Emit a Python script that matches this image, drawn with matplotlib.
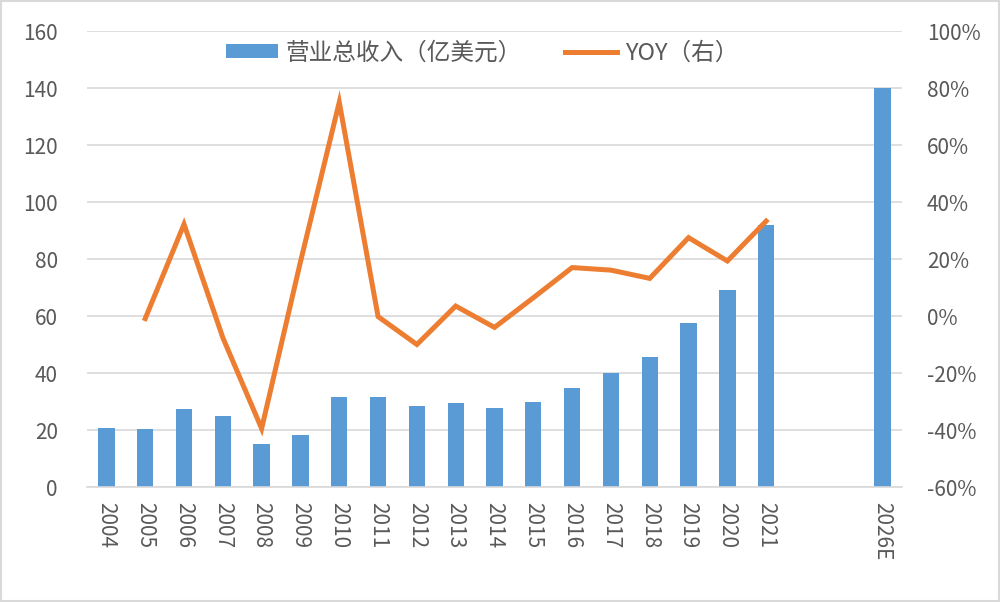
import matplotlib
matplotlib.use("Agg")
import matplotlib.pyplot as plt
from matplotlib.patches import Rectangle

plt.rcParams['font.family'] = ['Noto Sans CJK SC', 'DejaVu Sans']

categories = ['2004', '2005', '2006', '2007', '2008', '2009', '2010', '2011', '2012',
              '2013', '2014', '2015', '2016', '2017', '2018', '2019', '2020', '2021',
              '', '', '2026E']
revenue = [20.8, 20.4, 27.4, 25.0, 15.2, 18.1, 31.6, 31.6, 28.3, 29.4, 27.8, 29.7,
           34.8, 40.1, 45.6, 57.6, 69.0, 91.9, None, None, 140.0]
yoy = [None, -0.9, 32.2, -7.6, -39.5, 19.0, 75.0, -0.2, -10.0, 3.5, -4.0, 6.4,
       17.0, 16.1, 13.2, 27.5, 19.3, 33.3, None, None, None]
left_ticks = [0, 20, 40, 60, 80, 100, 120, 140, 160]
right_ticks = [-60, -40, -20, 0, 20, 40, 60, 80, 100]

blue = '#5B9BD5'
orange = '#ED7D31'
gray = '#595959'
grid = '#D9D9D9'
fs = 15

fig = plt.figure(figsize=(10, 6.02), dpi=100)
ax = fig.add_axes([0.087, 0.191, 0.815, 0.7575])
ax2 = ax.twinx()

x = list(range(len(categories)))
bx = [i for i, v in zip(x, revenue) if v is not None]
bv = [v for v in revenue if v is not None]
bars = ax.bar(bx, bv, width=0.42, color=blue, zorder=2, label='营业总收入（亿美元）')

lx = [i for i, v in zip(x, yoy) if v is not None]
lv = [v for v in yoy if v is not None]
line, = ax2.plot(lx, lv, color=orange, lw=3.6, solid_joinstyle='miter', zorder=3,
                 label='YOY（右）')

ax.set_xlim(-0.5, len(categories) - 0.5)
ax.set_ylim(0, 160)
ax2.set_ylim(-60, 100)
ax.set_yticks(left_ticks)
ax.set_yticklabels([str(t) for t in left_ticks])
ax2.set_yticks(right_ticks)
ax2.set_yticklabels([f'{t}%' for t in right_ticks])
ax.set_xticks(x)
ax.set_xticklabels(categories, rotation=270, va='top', ha='center')

for a in (ax, ax2):
    for s in a.spines.values():
        s.set_visible(False)
    a.tick_params(length=0, colors=gray, labelsize=fs)
ax.tick_params(axis='y', pad=21)
ax2.tick_params(axis='y', pad=18)
ax.tick_params(axis='x', pad=11)
ax.yaxis.grid(True, color=grid, lw=1.2, zorder=0)
ax.set_axisbelow(True)
ax.spines['bottom'].set_visible(True)
ax.spines['bottom'].set_color(grid)
ax.spines['bottom'].set_linewidth(1.2)

ax.set_zorder(1)
ax2.set_zorder(2)
ax.patch.set_visible(False)

fig.legend([bars, line], ['营业总收入（亿美元）', 'YOY（右）'], loc='center',
           bbox_to_anchor=(0.482, 0.912), ncol=2, frameon=False, fontsize=17,
           labelcolor=gray, handlelength=2.2, handleheight=0.55, handletextpad=0.35,
           columnspacing=1.8)

fig.patches.append(Rectangle((0.001, 0.001), 0.998, 0.997, transform=fig.transFigure,
                             fill=False, edgecolor='#D9D9D9', lw=1.5))

fig.savefig('out.png', dpi=100)
